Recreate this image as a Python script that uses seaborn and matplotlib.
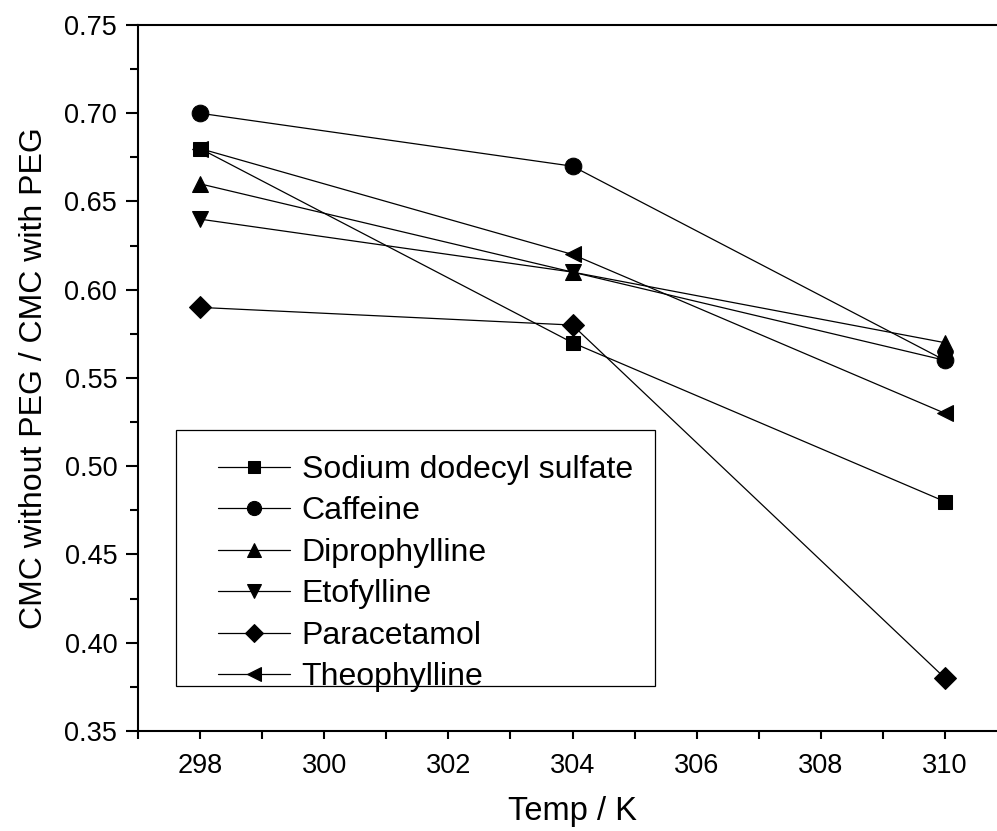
# CMC ratio vs temperature, recreated with seaborn
import matplotlib
matplotlib.use("Agg")
import pandas as pd
import matplotlib.pyplot as plt
import seaborn as sns
from matplotlib.patches import Rectangle
from matplotlib.ticker import MultipleLocator

# Data
temps = [298, 304, 310]
sds = [0.68, 0.57, 0.48]
caffeine = [0.70, 0.67, 0.56]
diprophylline = [0.66, 0.61, 0.57]
etofylline = [0.64, 0.61, 0.56]
paracetamol = [0.59, 0.58, 0.38]
theophylline = [0.68, 0.62, 0.53]

names = ["Sodium dodecyl sulfate", "Caffeine", "Diprophylline",
         "Etofylline", "Paracetamol", "Theophylline"]
series = [sds, caffeine, diprophylline, etofylline, paracetamol, theophylline]
markers = ["s", "o", "^", "v", "D", "<"]
msizes = [10, 12, 12, 12, 11, 12]

sns.set_style("ticks")
plt.rcParams["font.family"] = ["Liberation Sans", "DejaVu Sans"]
plt.rcParams.update({"text.color": "black", "axes.labelcolor": "black",
                     "xtick.color": "black", "ytick.color": "black"})

fig = plt.figure(figsize=(9.97, 8.31), dpi=100)
ax = fig.add_axes([138 / 997, 1 - 731 / 831, 869 / 997, 706 / 831])

for name, vals, m, ms in zip(names, series, markers, msizes):
    df = pd.DataFrame({"Temp": temps, "ratio": vals})
    sns.lineplot(data=df, x="Temp", y="ratio", ax=ax, color="black",
                 marker=m, markersize=ms, markeredgecolor="black",
                 linewidth=0.9, label=name)

ax.set_xlim(297, 311)
ax.set_ylim(0.35, 0.75)
ax.xaxis.set_major_locator(MultipleLocator(2))
ax.xaxis.set_minor_locator(MultipleLocator(1))
ax.yaxis.set_major_locator(MultipleLocator(0.05))
ax.yaxis.set_minor_locator(MultipleLocator(0.025))
ax.yaxis.set_major_formatter(plt.FormatStrFormatter("%.2f"))

ax.tick_params(axis="both", which="major", labelsize=19.5, width=1.5)
ax.tick_params(axis="y", which="major", length=9, pad=6)
ax.tick_params(axis="y", which="minor", length=6, width=1.5)
ax.tick_params(axis="x", which="major", length=6, pad=10)
ax.tick_params(axis="x", which="minor", length=6, width=1.5)

for side in ["left", "bottom", "top", "right"]:
    ax.spines[side].set_visible(True)
    ax.spines[side].set_linewidth(1.5)
    ax.spines[side].set_color("black")

ax.set_xlabel("Temp / K", fontsize=23.5, labelpad=12)
ax.set_ylabel("CMC without PEG / CMC with PEG", fontsize=23, labelpad=11)

# legend entries without frame; the box is drawn separately
leg = ax.legend(loc="upper left", bbox_to_anchor=(0.092, 0.391),
                fontsize=23, frameon=False, handlelength=2.25,
                handletextpad=0.37, labelspacing=0.36, borderpad=0,
                borderaxespad=0, markerscale=0.85)
ax.add_patch(Rectangle((0.0437, 0.0637), 0.551, 0.3626, transform=ax.transAxes,
                       fill=False, edgecolor="black", linewidth=0.9, zorder=1))

fig.savefig("out.png", dpi=100)
